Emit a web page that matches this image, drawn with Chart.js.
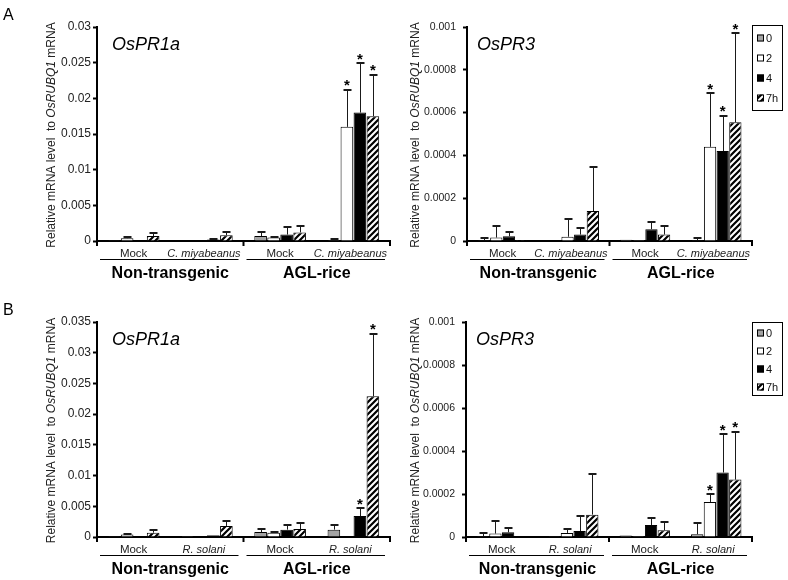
<!DOCTYPE html>
<html><head><meta charset="utf-8">
<script src="https://cdn.jsdelivr.net/npm/chart.js@4.4.0/dist/chart.umd.min.js"></script>
<style>
html,body{margin:0;padding:0;background:#fff;}
#wrap{position:relative;width:788px;height:580px;background:#fff;}
canvas{position:absolute;}
</style></head><body>
<div id="wrap">
<canvas id="cA1" width="394" height="290" style="left:0;top:0"></canvas>
<canvas id="cA2" width="394" height="290" style="left:394px;top:0"></canvas>
<canvas id="cB1" width="394" height="290" style="left:0;top:290px"></canvas>
<canvas id="cB2" width="394" height="290" style="left:394px;top:290px"></canvas>
</div>
<script>
// ---------- labels ----------
const seriesLabels = ['0', '2', '4', '7h'];
const groupLabels = ['Non-transgenic', 'AGL-rice'];
const catsCm = ['Mock', 'C. miyabeanus', 'Mock', 'C. miyabeanus'];
const catsRs = ['Mock', 'R. solani', 'Mock', 'R. solani'];
const italicCats = [false, true, false, true];
const ticksPR1aCm = ['0', '0.005', '0.01', '0.015', '0.02', '0.025', '0.03'];
const ticksPR1aRs = ['0', '0.005', '0.01', '0.015', '0.02', '0.025', '0.03', '0.035'];
const ticksPR3 = ['0', '0.0002', '0.0004', '0.0006', '0.0008', '0.001'];

// ---------- A: OsPR1a, C. miyabeanus ----------
const pr1aCm_0h = [0.00003, 0.0001, 0.0007, 0.00015];
const pr1aCm_2h = [0.0004, 0, 0.0005, 0.016];
const pr1aCm_4h = [0.0001, 0.0002, 0.0009, 0.018];
const pr1aCm_7h = [0.0007, 0.0008, 0.0012, 0.0175];
const pr1aCm_sd0 = [0, 0, 0.0005, 0.0001];
const pr1aCm_sd2 = [0.0001, 0, 0.0001, 0.0052];
const pr1aCm_sd4 = [0, 0.0001, 0.001, 0.0069];
const pr1aCm_sd7 = [0.0004, 0.0005, 0.0009, 0.0058];
const pr1aCm_stars = [[1, 3], [2, 3], [3, 3]];

// ---------- A: OsPR3, C. miyabeanus ----------
const pr3Cm_0h = [0.000004, 0.000002, 0.000006, 0.000004];
const pr3Cm_2h = [0.000016, 0.00002, 0.000005, 0.00044];
const pr3Cm_4h = [0.000022, 0.00003, 0.000055, 0.00042];
const pr3Cm_7h = [0.000004, 0.00014, 0.00003, 0.000555];
const pr3Cm_sd0 = [0.00001, 0, 0, 0.000008];
const pr3Cm_sd2 = [0.000055, 0.000083, 0, 0.00025];
const pr3Cm_sd4 = [0.000022, 0.00003, 0.000035, 0.000165];
const pr3Cm_sd7 = [0, 0.000205, 0.00004, 0.000415];
const pr3Cm_stars = [[1, 3], [2, 3], [3, 3]];

// ---------- B: OsPR1a, R. solani ----------
const pr1aRs_0h = [0.00003, 0.00002, 0.0008, 0.0012];
const pr1aRs_2h = [0.0004, 0, 0.0007, 0.00005];
const pr1aRs_4h = [0.0001, 0.0003, 0.0012, 0.0034];
const pr1aRs_7h = [0.0007, 0.0018, 0.0013, 0.0229];
const pr1aRs_sd0 = [0, 0, 0.0005, 0.0007];
const pr1aRs_sd2 = [0.0001, 0, 0.0001, 0];
const pr1aRs_sd4 = [0, 0, 0.0008, 0.0013];
const pr1aRs_sd7 = [0.0005, 0.0008, 0.0009, 0.0102];
const pr1aRs_stars = [[2, 3], [3, 3]];

// ---------- B: OsPR3, R. solani ----------
const pr3Rs_0h = [0.000004, 0.000004, 0.000007, 0.000013];
const pr3Rs_2h = [0.000016, 0.000019, 0.000005, 0.000163];
const pr3Rs_4h = [0.000022, 0.000028, 0.000056, 0.0003];
const pr3Rs_7h = [0.000003, 0.000104, 0.000031, 0.000267];
const pr3Rs_sd0 = [0.000014, 0, 0, 0.00005];
const pr3Rs_sd2 = [0.000057, 0.00002, 0, 0.000036];
const pr3Rs_sd4 = [0.000022, 0.000072, 0.000031, 0.000178];
const pr3Rs_sd7 = [0, 0.00019, 0.000037, 0.000223];
const pr3Rs_stars = [[1, 3], [2, 3], [3, 3]];

// ---------- styling ----------
const FONT = '"Liberation Sans", Arial, Helvetica, sans-serif';
function makeHatch() {
  const c = document.createElement('canvas');
  c.width = 6; c.height = 6;
  const g = c.getContext('2d');
  g.fillStyle = '#fff'; g.fillRect(0, 0, 6, 6);
  g.strokeStyle = '#000'; g.lineWidth = 2.2;
  g.beginPath();
  g.moveTo(-1, 7); g.lineTo(7, -1);
  g.moveTo(-1, 1); g.lineTo(1, -1);
  g.moveTo(5, 7); g.lineTo(7, 5);
  g.stroke();
  return g.createPattern(c, 'repeat');
}
const hatch = makeHatch();
const fills = ['#a3a3a3', '#ffffff', '#000000', hatch];

function panelPlugin(cfg) {
  return {
    id: 'panel_' + cfg.id,
    afterDraw(chart) {
      const ctx = chart.ctx, a = chart.chartArea, xs = chart.scales.x, ys = chart.scales.y;
      ctx.save();
      // error bars
      ctx.strokeStyle = '#1a1a1a';
      cfg.sds.forEach((sd, k) => {
        const meta = chart.getDatasetMeta(k);
        sd.forEach((s, i) => {
          if (!(s > 0)) return;
          const bar = meta.data[i];
          const v = cfg.means[k][i];
          const x = Math.round(bar.x) + 0.5;
          const y0 = ys.getPixelForValue(v), y1 = Math.round(ys.getPixelForValue(v + s));
          ctx.lineWidth = 1;
          ctx.beginPath(); ctx.moveTo(x, y0); ctx.lineTo(x, y1); ctx.stroke();
          ctx.lineWidth = 2;
          ctx.beginPath(); ctx.moveTo(x - 4, y1); ctx.lineTo(x + 4, y1); ctx.stroke();
        });
      });
      // asterisks
      ctx.fillStyle = '#000';
      ctx.font = 'bold 15px ' + FONT;
      ctx.textAlign = 'center'; ctx.textBaseline = 'alphabetic';
      cfg.stars.forEach(([k, i]) => {
        const bar = chart.getDatasetMeta(k).data[i];
        const top = ys.getPixelForValue(cfg.means[k][i] + cfg.sds[k][i]);
        ctx.fillText('*', bar.x, top + 0.5);
      });
      // x-axis group tick marks
      ctx.strokeStyle = '#000'; ctx.lineWidth = 2;
      const half = (a.right - a.left) / 2;
      [a.left, a.left + half, a.right].forEach(x => {
        ctx.beginPath(); ctx.moveTo(x, a.bottom); ctx.lineTo(x, a.bottom + 5); ctx.stroke();
      });
      // category labels
      ctx.fillStyle = '#222';
      ctx.textBaseline = 'middle'; ctx.textAlign = 'center';
      cfg.cats.forEach((c, i) => {
        ctx.font = (italicCats[i] ? 'italic 11px ' : '11.5px ') + FONT;
        ctx.fillText(c, xs.getPixelForValue(i) - (italicCats[i] ? 3 : 0), a.bottom + 13);
      });
      // group lines & labels
      ctx.lineWidth = 1; ctx.strokeStyle = '#000';
      groupLabels.forEach((g, j) => {
        const x0 = a.left + j * half, x1 = x0 + half;
        ctx.beginPath(); ctx.moveTo(x0 + 3, a.bottom + 18.5); ctx.lineTo(x1 - 5, a.bottom + 18.5); ctx.stroke();
        ctx.font = 'bold 16px ' + FONT;
        ctx.fillStyle = '#000';
        ctx.textBaseline = 'alphabetic';
        ctx.fillText(g, (x0 + x1) / 2, a.bottom + 37);
      });
      // y-axis title
      ctx.save();
      ctx.translate(cfg.titleX, (a.top + a.bottom) / 2 + 1);
      ctx.rotate(-Math.PI / 2);
      ctx.fillStyle = '#222';
      ctx.textBaseline = 'middle'; ctx.textAlign = 'left';
      const parts = [['Relative mRNA level  to ', false], ['OsRUBQ1', true], [' mRNA', false]];
      let total = 0;
      parts.forEach(p => { ctx.font = (p[1] ? 'italic ' : '') + '12px ' + FONT; total += ctx.measureText(p[0]).width; });
      let xx = -total / 2;
      parts.forEach(p => { ctx.font = (p[1] ? 'italic ' : '') + '12px ' + FONT; ctx.fillText(p[0], xx, 0); xx += ctx.measureText(p[0]).width; });
      ctx.restore();
      // gene label
      ctx.fillStyle = '#000';
      ctx.font = 'italic 18px ' + FONT;
      ctx.textAlign = 'left'; ctx.textBaseline = 'alphabetic';
      ctx.fillText(cfg.gene, a.left + cfg.geneDx, a.top + 23);
      // panel letter
      if (cfg.letter) {
        ctx.font = '16px ' + FONT;
        ctx.fillText(cfg.letter, 3, cfg.letterY);
      }
      // legend
      if (cfg.legend) {
        const L = cfg.legend;
        const bx = a.right + 0.5, by = L.top + 0.5;
        ctx.lineWidth = 1; ctx.strokeStyle = '#000';
        ctx.strokeRect(bx, by, 30, L.h);
        ctx.font = '11px ' + FONT;
        ctx.textBaseline = 'middle';
        seriesLabels.forEach((s, k) => {
          const cy = L.top + L.first + k * L.step;
          ctx.fillStyle = fills[k];
          ctx.fillRect(a.right + 5, cy - 3.5, 7, 7);
          ctx.strokeStyle = '#000';
          ctx.strokeRect(a.right + 5.5, cy - 3, 6, 6);
          ctx.fillStyle = '#111';
          ctx.fillText(s, a.right + 14, cy + 0.5);
        });
      }
      ctx.restore();
    }
  };
}

function makePanel(cfg) {
  const datasets = cfg.means.map((m, k) => ({
    label: seriesLabels[k],
    data: m,
    backgroundColor: fills[k],
    borderColor: '#000',
    borderWidth: 1,
    categoryPercentage: 0.71,
    barPercentage: 0.97
  }));
  new Chart(document.getElementById(cfg.id), {
    type: 'bar',
    data: { labels: cfg.cats, datasets },
    options: {
      responsive: false, animation: false, devicePixelRatio: 1,
      layout: { padding: { left: 0, top: cfg.T, right: 394 - cfg.R, bottom: 0 } },
      plugins: { legend: { display: false }, tooltip: { enabled: false } },
      scales: {
        x: {
          grid: { display: false },
          ticks: { display: false },
          border: { color: '#000', width: 2 },
          afterFit: s => { s.height = 290 - cfg.B; }
        },
        y: {
          min: 0, max: parseFloat(cfg.ticks[cfg.ticks.length - 1]),
          afterBuildTicks: s => { s.ticks = cfg.ticks.map(t => ({ value: parseFloat(t) })); },
          ticks: {
            callback: (v, i) => cfg.ticks[i],
            color: '#222',
            font: { family: FONT, size: cfg.tickSize },
            padding: cfg.tickPad
          },
          grid: { drawOnChartArea: false, drawTicks: true, tickLength: 4, tickWidth: 2, tickColor: '#000' },
          border: { color: '#000', width: 2 },
          afterFit: s => { s.width = cfg.L; }
        }
      }
    },
    plugins: [panelPlugin(cfg)]
  });
}

makePanel({
  id: 'cA1', cats: catsCm, gene: 'OsPR1a', letter: 'A', letterY: 20,
  means: [pr1aCm_0h, pr1aCm_2h, pr1aCm_4h, pr1aCm_7h],
  sds: [pr1aCm_sd0, pr1aCm_sd2, pr1aCm_sd4, pr1aCm_sd7],
  stars: pr1aCm_stars, ticks: ticksPR1aCm,
  L: 97, T: 27, R: 390, B: 241, titleX: 52, geneDx: 15, tickSize: 12, tickPad: 2
});
makePanel({
  id: 'cA2', cats: catsCm, gene: 'OsPR3',
  means: [pr3Cm_0h, pr3Cm_2h, pr3Cm_4h, pr3Cm_7h],
  sds: [pr3Cm_sd0, pr3Cm_sd2, pr3Cm_sd4, pr3Cm_sd7],
  stars: pr3Cm_stars, ticks: ticksPR3,
  L: 73, T: 27, R: 358, B: 241, titleX: 22, geneDx: 10, tickSize: 10.5, tickPad: 7,
  legend: { top: 25, h: 85, first: 13, step: 20 }
});
makePanel({
  id: 'cB1', cats: catsRs, gene: 'OsPR1a', letter: 'B', letterY: 25,
  means: [pr1aRs_0h, pr1aRs_2h, pr1aRs_4h, pr1aRs_7h],
  sds: [pr1aRs_sd0, pr1aRs_sd2, pr1aRs_sd4, pr1aRs_sd7],
  stars: pr1aRs_stars, ticks: ticksPR1aRs,
  L: 97, T: 32, R: 390, B: 247, titleX: 52, geneDx: 15, tickSize: 12, tickPad: 2
});
makePanel({
  id: 'cB2', cats: catsRs, gene: 'OsPR3',
  means: [pr3Rs_0h, pr3Rs_2h, pr3Rs_4h, pr3Rs_7h],
  sds: [pr3Rs_sd0, pr3Rs_sd2, pr3Rs_sd4, pr3Rs_sd7],
  stars: pr3Rs_stars, ticks: ticksPR3,
  L: 72, T: 32, R: 358, B: 247, titleX: 22, geneDx: 10, tickSize: 10.5, tickPad: 7,
  legend: { top: 32, h: 73, first: 11, step: 18 }
});
</script>
</body></html>
